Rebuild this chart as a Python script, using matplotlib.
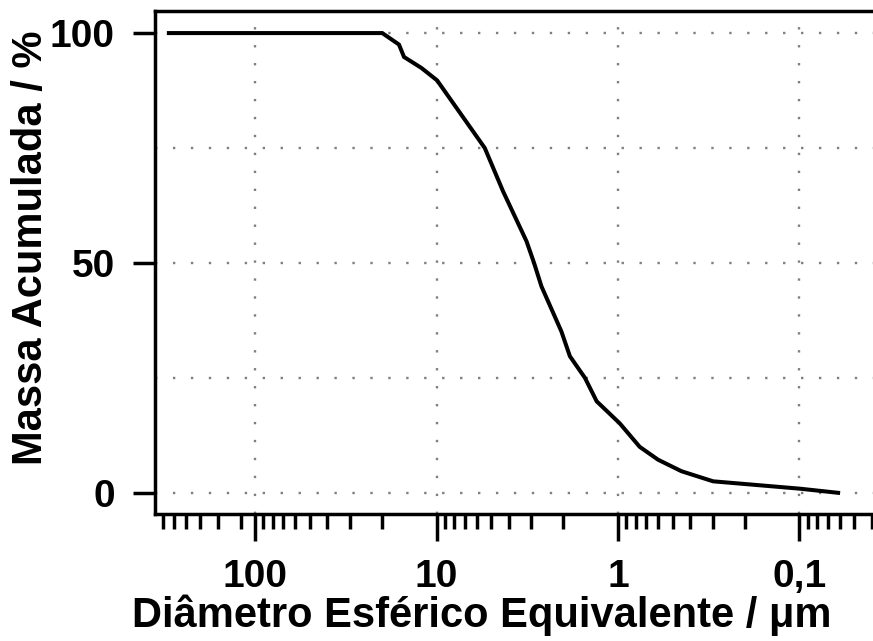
import matplotlib
matplotlib.use("Agg")
import matplotlib.pyplot as plt
from matplotlib.ticker import FixedLocator, FixedFormatter, NullFormatter

# ---- data ----
diameter = [298.5, 19.9, 16.1, 15.1, 12.1, 9.92, 5.42, 4.30, 3.19, 2.90, 2.64,
            2.05, 1.84, 1.52, 1.31, 0.977, 0.759, 0.601, 0.447, 0.299, 0.0995, 0.0612]
mass = [100, 100, 97.5, 94.8, 92.4, 89.7, 75.0, 65.6, 54.7, 50.0, 44.9,
        35.1, 29.7, 25.0, 19.9, 15.1, 10.0, 7.2, 4.7, 2.5, 0.9, 0.0]

x_major = [100, 10, 1, 0.1]
x_major_labels = ["100", "10", "1", "0,1"]
x_minor = [120, 160, 200, 240, 280, 320,
           20, 30, 40, 50, 60, 70, 80, 90,
           2, 3, 4, 5, 6, 7, 8, 9,
           0.2, 0.3, 0.4, 0.5, 0.6, 0.7, 0.8, 0.9,
           0.04, 0.05, 0.06, 0.07, 0.08, 0.09]
y_major = [0, 50, 100]
y_grid = [0, 25, 50, 75, 100]

xlabel = "Diâmetro Esférico Equivalente / μm"
ylabel = "Massa Acumulada / %"

plt.rcParams['font.family'] = ['Liberation Sans', 'DejaVu Sans']
plt.rcParams['font.weight'] = 'bold'

W, H = 873, 641
fig = plt.figure(figsize=(W / 100, H / 100), dpi=100)
left, right, top, bottom = 155, 873, 11, 513.5
ax = fig.add_axes([left / W, 1 - bottom / H, (right - left) / W, (bottom - top) / H])

ax.set_xscale('log')
ax.set_xlim(356, 0.0393)
ax.set_ylim(-4.5, 104.8)

grid_kw = dict(color='#7f7f7f', linewidth=1.7, linestyle=(0, (1, 6.6)), zorder=1)
for gx in x_major:
    ax.axvline(gx, **grid_kw)
for gy in y_grid:
    ax.axhline(gy, **grid_kw)

ax.plot(diameter, mass, color='black', linewidth=2.9, zorder=3, solid_joinstyle='miter')

ax.xaxis.set_major_locator(FixedLocator(x_major))
ax.xaxis.set_major_formatter(FixedFormatter(x_major_labels))
ax.xaxis.set_minor_locator(FixedLocator(x_minor))
ax.xaxis.set_minor_formatter(NullFormatter())
ax.yaxis.set_major_locator(FixedLocator(y_major))
ax.yaxis.set_minor_locator(FixedLocator([]))

ax.tick_params(axis='x', which='major', direction='out', length=19.5, width=2.5,
               pad=13, labelsize=28)
ax.tick_params(axis='x', which='minor', direction='out', length=10.5, width=2.5)
ax.tick_params(axis='y', which='major', direction='out', length=16, width=2.5,
               pad=13, labelsize=28)
for lab in ax.get_xticklabels() + ax.get_yticklabels():
    lab.set_fontweight('bold')

for s in ['left', 'top', 'bottom']:
    ax.spines[s].set_linewidth(2.5)
ax.spines['right'].set_visible(False)

ax.set_xlabel(xlabel, fontsize=30, fontweight='bold')
ax.set_ylabel(ylabel, fontsize=30, fontweight='bold')
ax.xaxis.set_label_coords(0.4547, -0.162)
ax.yaxis.set_label_coords(-0.145, 0.529)

fig.savefig("out.png", dpi=100)
